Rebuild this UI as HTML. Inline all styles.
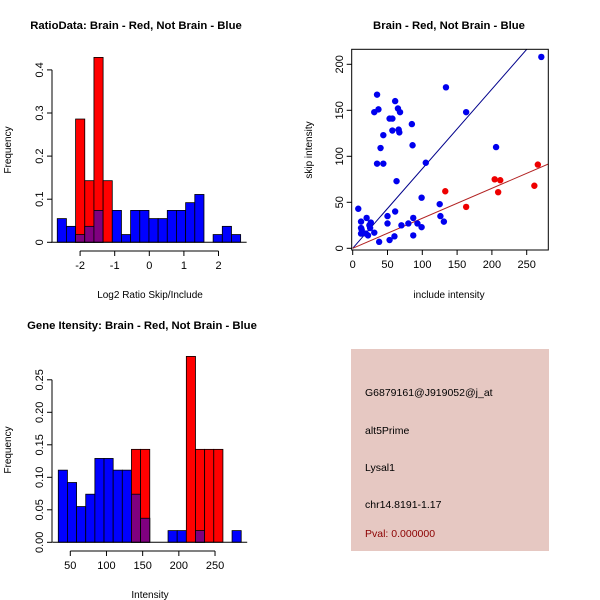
<!DOCTYPE html>
<html><head><meta charset="utf-8"><style>
html,body{margin:0;padding:0;background:#fff;}
svg{display:block;font-family:"Liberation Sans",sans-serif;}
</style></head><body>
<svg id="c" width="600" height="600" xmlns="http://www.w3.org/2000/svg">
<rect width="600" height="600" fill="#fff"/>
<text x="136" y="29" font-size="11.3" font-weight="bold" text-anchor="middle">RatioData: Brain - Red, Not Brain - Blue</text>
<text x="449" y="29" font-size="11.3" font-weight="bold" text-anchor="middle">Brain - Red, Not Brain - Blue</text>
<text x="142" y="329" font-size="11.3" font-weight="bold" text-anchor="middle">Gene Itensity: Brain - Red, Not Brain - Blue</text>
<text x="150" y="298" font-size="10" text-anchor="middle">Log2 Ratio Skip/Include</text>
<text x="449" y="298" font-size="10" text-anchor="middle">include intensity</text>
<text x="150" y="598" font-size="10" text-anchor="middle">Intensity</text>
<text transform="translate(11,150) rotate(-90)" font-size="10" text-anchor="middle">Frequency</text>
<text transform="translate(312,150) rotate(-90)" font-size="10" text-anchor="middle">skip intensity</text>
<text transform="translate(11,450) rotate(-90)" font-size="10" text-anchor="middle">Frequency</text>
<g>
<rect x="351" y="349" width="198" height="202" fill="#e6c8c2"/>
<g font-size="10.5" fill="#000">
<text x="365" y="396">G6879161@J919052@j_at</text>
<text x="365" y="434">alt5Prime</text>
<text x="365" y="471">Lysal1</text>
<text x="365" y="508">chr14.8191-1.17</text>
<text x="365" y="537" fill="#8b0000">Pval: 0.000000</text>
</g></g>
</svg>
<script>
// ---- Ratio histogram data ----
const ratioStart = -2.66, ratioBinW = 0.265;
const ratioBlue = [0.055,0.037,0.018,0.037,0.074,0,0.074,0.018,0.074,0.074,0.055,0.055,0.074,0.074,0.092,0.111,0,0.018,0.037,0.018];
const ratioRed  = [0,0,0.286,0.143,0.429,0.143,0,0,0,0,0,0,0,0,0,0,0,0,0,0];
const ratioXTicks = [-2,-1,0,1,2];
const ratioYTicks = [0,0.1,0.2,0.3,0.4];
// ---- Intensity histogram data ----
const intStart = 33.4, intBinW = 12.64;
const intBlue = [0.111,0.092,0.055,0.074,0.129,0.129,0.111,0.111,0.074,0.037,0,0,0.018,0.018,0,0.018,0,0,0,0.018];
const intRed  = [0,0,0,0,0,0,0,0,0.143,0.143,0,0,0,0,0.286,0.143,0.143,0.143,0,0];
const intXTicks = [50,100,150,200,250];
const intYTicks = [0,0.05,0.10,0.15,0.20,0.25];
const intYLabels = ["0.00","0.05","0.10","0.15","0.20","0.25"];
// ---- Scatter data ----
const blueX = [8,12,12,13,12,20,19,22,24,26,25,31,31,35,37,35,40,44,44,38,50,50,53,53,57,57,61,61,63,60,65,66,67,68,70,80,85,86,87,87,93,99,99,105,125,126,131,134,163,206,271];
const blueY = [43,29,22,20,16,33,16,14,25,28,22,17,148,167,151,92,109,123,92,7,35,27,9,141,141,128,160,40,73,13,152,129,126,148,25,27,135,112,33,14,27,55,23,93,48,35,29,175,148,110,208];
const redX = [133,163,204,212,209,261,266];
const redY = [62,45,75,74,61,68,91];
const blueSlope = 0.865, redSlope = 0.326;
const scatXTicks = [0,50,100,150,200,250];
const scatYTicks = [0,50,100,150,200];

const NS="http://www.w3.org/2000/svg";
const svg=document.getElementById('c');
function mk(tag,attrs,parent){const e=document.createElementNS(NS,tag);for(const k in attrs)e.setAttribute(k,attrs[k]);(parent||svg).appendChild(e);return e;}

function hist(name,start,bw,blue,red,xsc,ysc,xt,yt,ylab,xAxisY,yAxisX){
  const g=mk('g',{});
  
  
  for(let i=0;i<blue.length;i++){
    const x0=xsc(start+i*bw),x1=xsc(start+(i+1)*bw);
    const b=blue[i],r=red[i];
    if(b>0){const e=mk('rect',{x:x0,y:ysc(b),width:x1-x0,height:ysc(0)-ysc(b),fill:'#0000ff',stroke:'#000','stroke-width':0.8},g);
      
      }
    if(r>0){const e=mk('rect',{x:x0,y:ysc(r),width:x1-x0,height:ysc(0)-ysc(r),fill:'#ff0000',stroke:'#000','stroke-width':0.8},g);
      
      }
    const m=Math.min(b,r);
    if(m>0){const e=mk('rect',{x:x0,y:ysc(m),width:x1-x0,height:ysc(0)-ysc(m),fill:'#7f007f',stroke:'#000','stroke-width':0.8},g);
      
      }
  }
  mk('line',{x1:xsc(start)-6,x2:xsc(start+blue.length*bw)+6,y1:ysc(0),y2:ysc(0),stroke:'#000'},g);
  const xa=mk('g',{},g);
  
  
  mk('line',{x1:xsc(xt[0]),x2:xsc(xt[xt.length-1]),y1:xAxisY,y2:xAxisY,stroke:'#000'},xa);
  xt.forEach(v=>{mk('line',{x1:xsc(v),x2:xsc(v),y1:xAxisY,y2:xAxisY+5,stroke:'#000'},xa);
    const t=mk('text',{x:xsc(v),y:xAxisY+18,'font-size':11,'text-anchor':'middle'},xa);t.textContent=v;});
  const ya=mk('g',{},g);
  
  
  mk('line',{x1:yAxisX,x2:yAxisX,y1:ysc(yt[0]),y2:ysc(yt[yt.length-1]),stroke:'#000'},ya);
  yt.forEach((v,i)=>{mk('line',{x1:yAxisX-5,x2:yAxisX,y1:ysc(v),y2:ysc(v),stroke:'#000'},ya);
    const t=mk('text',{transform:`translate(${yAxisX-9},${ysc(v)}) rotate(-90)`,'font-size':11,'text-anchor':'middle'},ya);t.textContent=ylab[i];});
}
hist('ratio-histogram',ratioStart,ratioBinW,ratioBlue,ratioRed,
  v=>149.3+v*34.6, v=>242.3-v*431, ratioXTicks,ratioYTicks,ratioYTicks.map(String),251,52);
hist('intensity-histogram',intStart,intBinW,intBlue,intRed,
  v=>70.3+(v-50)*0.7236, v=>542.3-v*650, intXTicks,intYTicks,intYLabels,551,52);

const sx=v=>352.7+v*0.696, sy=v=>248.3-v*0.92;
const sg=mk('g',{});


mk('clipPath',{id:'sclip'},sg);
mk('rect',{x:351.7,y:49.3,width:196.6,height:200.7},document.getElementById('sclip'));
const lg=mk('g',{'clip-path':'url(#sclip)'},sg);
const bl=mk('line',{x1:sx(0),y1:sy(0),x2:sx(300),y2:sy(300*blueSlope),stroke:'#00008b','stroke-width':1},lg);


const rl=mk('line',{x1:sx(0),y1:sy(0),x2:sx(300),y2:sy(300*redSlope),stroke:'#b22222','stroke-width':1},lg);


blueX.forEach((x,i)=>{const c=mk('circle',{cx:sx(x),cy:sy(blueY[i]),r:3.2,fill:'#0000ee'},sg);
  
  });
redX.forEach((x,i)=>{const c=mk('circle',{cx:sx(x),cy:sy(redY[i]),r:3.2,fill:'#ee0000'},sg);
  
  });
mk('rect',{x:351.7,y:49.3,width:196.6,height:200.7,fill:'none',stroke:'#000'},sg);
const sxa=mk('g',{},sg);


scatXTicks.forEach(v=>{mk('line',{x1:sx(v),x2:sx(v),y1:250,y2:255,stroke:'#000'},sxa);
  const t=mk('text',{x:sx(v),y:268,'font-size':11,'text-anchor':'middle'},sxa);t.textContent=v;});
const sya=mk('g',{},sg);


scatYTicks.forEach(v=>{mk('line',{x1:346.7,x2:351.7,y1:sy(v),y2:sy(v),stroke:'#000'},sya);
  const t=mk('text',{transform:`translate(343,${sy(v)}) rotate(-90)`,'font-size':11,'text-anchor':'middle'},sya);t.textContent=v;});
</script>
</body></html>
